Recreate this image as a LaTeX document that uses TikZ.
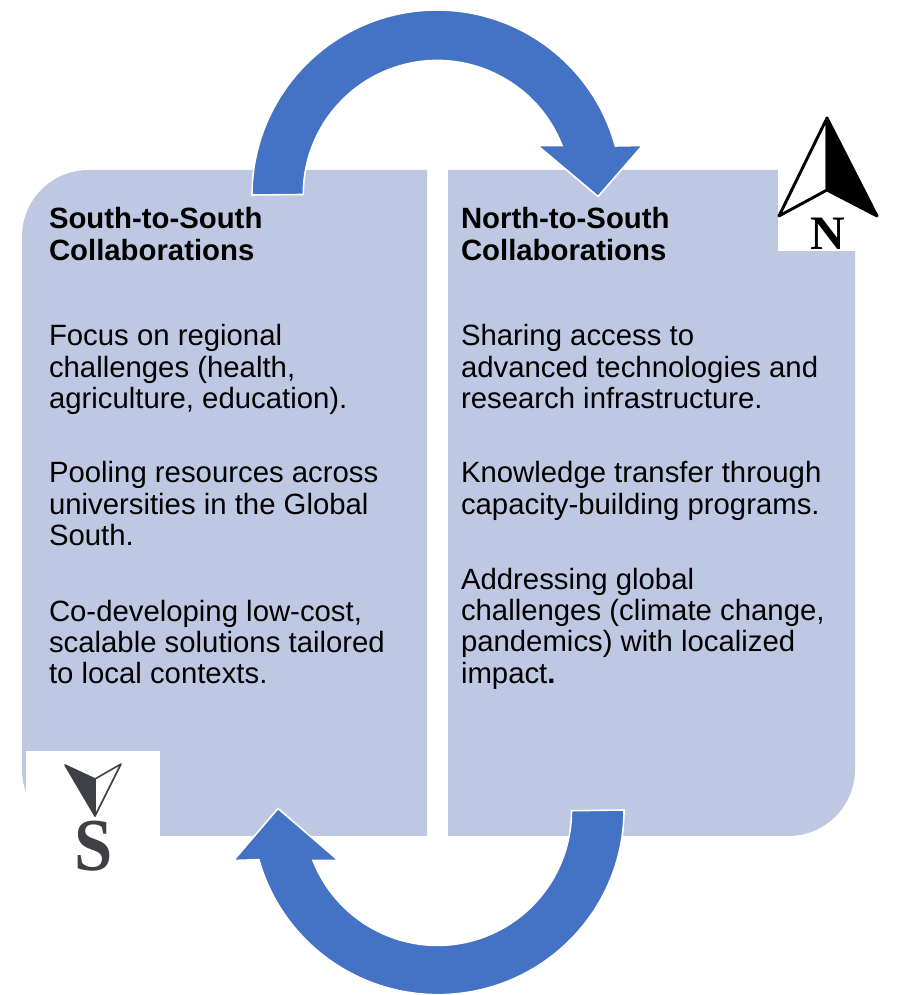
\documentclass[tikz,border=0pt]{standalone}
\usepackage{fontspec}
\setmainfont{Liberation Sans}
\newfontfamily\compassfont{Liberation Serif}
\definecolor{panelblue}{HTML}{BEC8E3}
\definecolor{arrowblue}{HTML}{4472C4}
\definecolor{slategrey}{HTML}{3F3F46}
\tikzset{
  panel/.style={fill=panelblue,draw=none},
  blank/.style={fill=white,draw=none},
  bigarrow/.style={fill=arrowblue,draw=white,line width=1.2pt,line join=miter},
  para/.style={anchor=north west,inner sep=0pt,outer sep=0pt,align=left,
    font=\fontsize{22}{23.45}\selectfont,execute at begin node={\rule{0pt}{16pt}}},
  compassletter/.style={anchor=base,inner sep=0pt,outer sep=0pt}
}
\begin{document}
\begin{tikzpicture}[x=0.75pt,y=0.75pt]
\useasboundingbox (0,0) rectangle (896,995);
% panels
\fill[panel] (427,159) [rounded corners=50pt] -- (22,159) -- (22,825) [sharp corners] -- (427,825) -- cycle;
\fill[panel] (448,825) -- (855,825) [rounded corners=50pt] -- (855,159) [sharp corners] -- (448,159) -- cycle;
% white patches behind the compass marks
\fill[blank] (26,115) rectangle (160,244);
\fill[blank] (778,744) rectangle (860,830);
% top arrow
\draw[bigarrow] (252,800) arc[start angle=180,end angle=15.36,radius=138.75pt]
  -- (642.5,849.5) -- (598,798.5) -- (537.5,849.5) -- (562,849.5)
  arc[start angle=21.45,end angle=180,radius=100.5pt] -- cycle;
% bottom arrow
\draw[bigarrow] (624,185) arc[start angle=0,end angle=-164.4,x radius=139.5pt,y radius=138.5pt]
  -- (233.5,134.5) -- (278,186.5) -- (338.5,134.5) -- (313,134.5)
  arc[start angle=-158.3,end angle=0,x radius=100.5pt,y radius=101pt] -- cycle;
% north mark
\draw[line width=2.2pt,line join=round,fill=white] (827,877) -- (779,779) -- (827,805) -- cycle;
\draw[line width=2.2pt,line join=round,fill=black] (827,877) -- (877,779) -- (827,805) -- cycle;
\node[compassletter] (nletter) at (828,745) {\compassfont\bfseries\fontsize{36}{36}\selectfont N};
% south mark
\draw[slategrey,line width=1.2pt,line join=round,fill=white] (95,216) -- (121,231) -- (95,179) -- cycle;
\draw[slategrey,line width=1.2pt,line join=round,fill=slategrey] (95,216) -- (65,230) -- (95,179) -- cycle;
\node[compassletter,text=slategrey,xscale=0.92,transform shape] (sletter) at (93.5,124) {\compassfont\bfseries\fontsize{56}{56}\selectfont S};
% left column
\node[para] (lhead) at (49,787.3) {\textbf{South-to-South}\\\textbf{Collaborations}};
\node[para] (la) at (49,670.3) {Focus on regional\\challenges (health,\\agriculture, education).};
\node[para] (lb) at (49,533.3) {Pooling resources across\\universities in the Global\\South.};
\node[para] (lc) at (49,395) {Co-developing low-cost,\\scalable solutions tailored\\to local contexts.};
% right column
\node[para] (rhead) at (461,787.3) {\textbf{North-to-South}\\\textbf{Collaborations}};
\node[para] (ra) at (461,670.3) {Sharing access to\\advanced technologies and\\research infrastructure.};
\node[para] (rb) at (461,533.3) {Knowledge transfer through\\capacity-building programs.};
\node[para] (rc) at (461,427) {Addressing global\\challenges (climate change,\\pandemics) with localized\\impact\textbf{.}};
\end{tikzpicture}
\end{document}
